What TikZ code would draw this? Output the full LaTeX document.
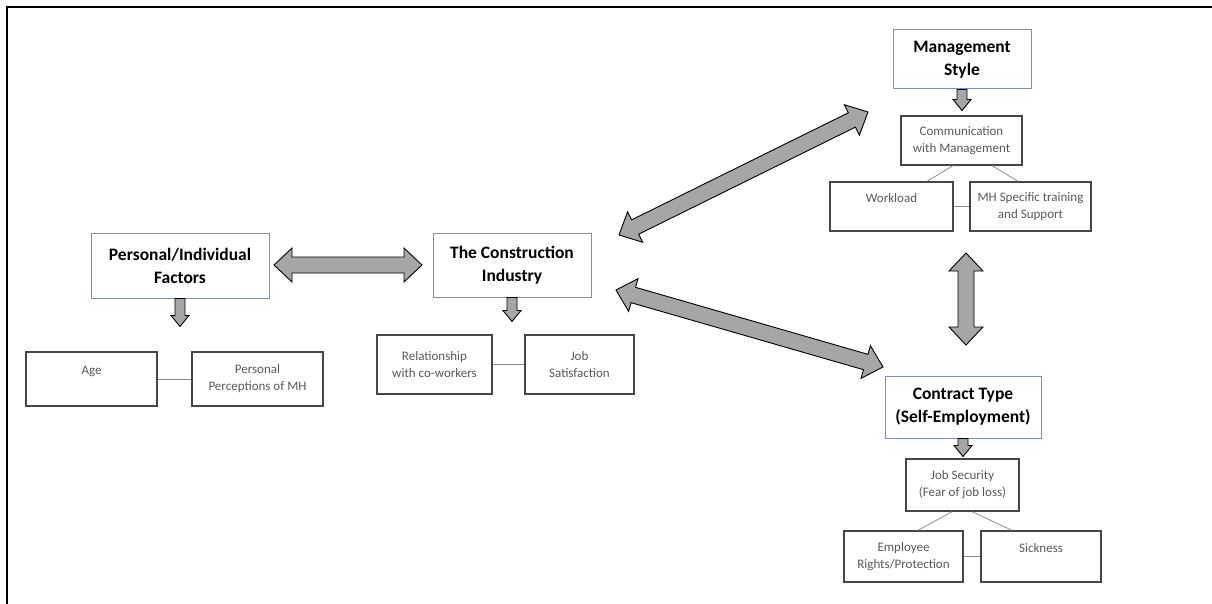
\documentclass[tikz,border=0pt]{standalone}
\usepackage{fontspec}
\setmainfont{Carlito}
\usepackage{tikz}
\usetikzlibrary{calc}

\definecolor{arrowgray}{RGB}{166,166,166}
\definecolor{headblue}{RGB}{124,143,182}
\definecolor{boxgray}{RGB}{70,70,70}
\definecolor{textgray}{RGB}{89,89,89}
\definecolor{linegray}{RGB}{140,140,140}

\tikzset{
 headbox/.style={draw=headblue, line width=1pt, fill=white, align=center, inner sep=0pt,
   font=\fontsize{17.5}{23}\selectfont\bfseries},
 itembox/.style={draw=boxgray, line width=1.3pt, fill=white, text=textgray, align=center, inner sep=0pt,
   font=\fontsize{13}{17}\selectfont},
 linkline/.style={draw=linegray, line width=0.8pt},
 fatarr/.style={draw=black, fill=arrowgray, line width=0.9pt, line join=miter}
}

% double headed block arrow: from, to, half shaft, half head, head length
\newcommand{\fatarrow}[5]{%
 \draw[fatarr] (#1) -- ($(#1)!#5!(#2)!#4!90:(#2)$) -- ($(#1)!#5!(#2)!#3!90:(#2)$)
   -- ($(#2)!#5!(#1)!#3!-90:(#1)$) -- ($(#2)!#5!(#1)!#4!-90:(#1)$) -- (#2)
   -- ($(#2)!#5!(#1)!#4!90:(#1)$) -- ($(#2)!#5!(#1)!#3!90:(#1)$)
   -- ($(#1)!#5!(#2)!#3!-90:(#2)$) -- ($(#1)!#5!(#2)!#4!-90:(#2)$) -- cycle;}
% small single headed arrow below a box
\newcommand{\droparrow}[2]{%
 \draw[fatarr] ($(#1)!5pt!90:(#2)$) -- ($(#2)!11pt!(#1)!5pt!-90:(#1)$) -- ($(#2)!11pt!(#1)!9pt!-90:(#1)$)
   -- (#2) -- ($(#2)!11pt!(#1)!9pt!90:(#1)$) -- ($(#2)!11pt!(#1)!5pt!90:(#1)$)
   -- ($(#1)!5pt!-90:(#2)$) -- cycle;}

\begin{document}
\begin{tikzpicture}[x=1pt,y=-1pt]
\useasboundingbox (0,0) rectangle (1212,604);
\draw[line width=2pt] (7,604) -- (7,7) -- (1212,7);

% left and middle
\node[headbox, minimum width=178pt, minimum height=65pt](pif) at (180,265.5){Personal/Individual\\Factors};
\node[itembox, minimum width=131pt, minimum height=54pt](age) at (91.5,379){Age\\\mbox{}};
\node[itembox, minimum width=131pt, minimum height=54pt](ppm) at (257.5,379){Personal\\Perceptions of MH};
\node[headbox, minimum width=158pt, minimum height=64pt](tci) at (512,265){The Construction\\Industry};
\node[itembox, minimum width=115pt, minimum height=59pt](rel) at (434.5,364.5){Relationship\\with co-workers};
\node[itembox, minimum width=109pt, minimum height=59pt](jsat) at (579.5,364.5){Job\\Satisfaction};

% right
\node[headbox, minimum width=138pt, minimum height=59pt](ms) at (962,59.5){Management\\Style};
\node[itembox, minimum width=121pt, minimum height=49pt](cwm) at (961.5,140.5){Communication\\with Management};
\node[itembox, minimum width=123pt, minimum height=49pt](wl) at (891.5,206.5){Workload\\\mbox{}};
\node[itembox, minimum width=121pt, minimum height=49pt](mh) at (1030.5,206.5){MH Specific training\\and Support};
\node[headbox, minimum width=156pt, minimum height=62pt](ct) at (963,407){Contract Type\\(Self-Employment)};
\node[itembox, minimum width=113pt, minimum height=52pt](js) at (962.5,485){Job Security\\(Fear of job loss)};
\node[itembox, minimum width=119pt, minimum height=51pt](er) at (903.5,556.5){Employee\\Rights/Protection};
\node[itembox, minimum width=120pt, minimum height=51pt](sk) at (1041,556.5){Sickness\\\mbox{}};

\foreach \from/\to in {age/ppm,rel/jsat,wl/mh,er/sk}
 \draw[linkline] (\from) -- (\to);
\draw[linkline] ([xshift=-8.5pt]cwm.south) -- ([xshift=35.5pt]wl.north);
\draw[linkline] ([xshift=30.5pt]cwm.south) -- ([xshift=-12.5pt]mh.north);
\draw[linkline] ([xshift=-10.5pt]js.south) -- ([xshift=14.5pt]er.north);
\draw[linkline] ([xshift=9.5pt]js.south) -- ([xshift=-29pt]sk.north);

% block arrows
\coordinate (hL) at (274,265); \coordinate (hR) at (422,265);
\coordinate (uL) at (619,235); \coordinate (uR) at (868,112);
\coordinate (lL) at (616,290); \coordinate (lR) at (883,367);
\coordinate (vT) at (966,253); \coordinate (vB) at (966,345);
\foreach \from/\to in {hL/hR,uL/uR,lL/lR,vT/vB}
 \fatarrow{\from}{\to}{8pt}{17pt}{18pt};

\coordinate (piftip) at ([yshift=-28pt]pif.south);
\coordinate (tcitip) at ([yshift=-24pt]tci.south);
\coordinate (mstip) at ([yshift=-21pt]ms.south);
\coordinate (cttip) at ([yshift=-18pt]ct.south);
\foreach \src in {pif,tci,ms,ct}
 \droparrow{\src.south}{\src tip};
\end{tikzpicture}
\end{document}
